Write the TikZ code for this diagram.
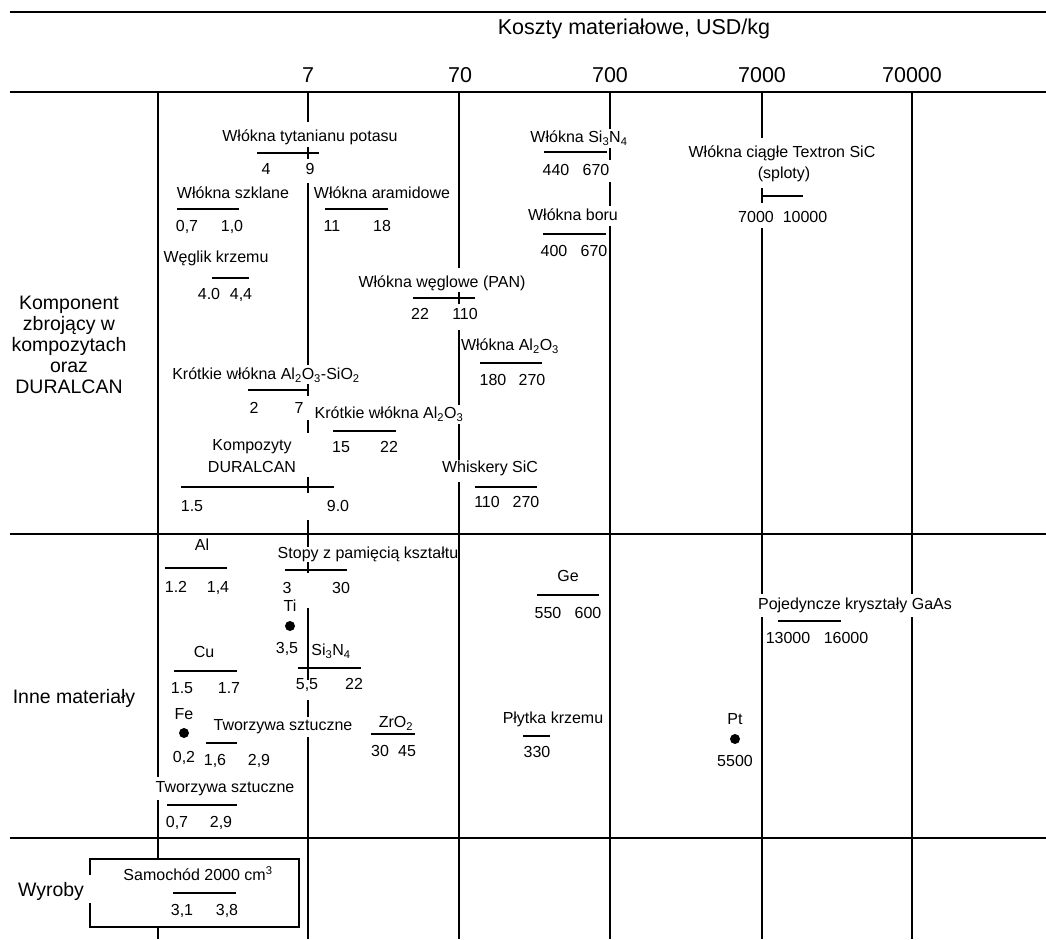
\documentclass[tikz,border=0pt]{standalone}
\usepackage{fontspec}
\setmainfont{Liberation Sans}
\begin{document}
\begin{tikzpicture}[x=1pt,y=-1pt,
  gridln/.style={line width=2.2pt},
  rbar/.style={line width=2.4pt},
  lb/.style={font=\fontsize{16}{18}\selectfont, inner sep=0pt, text height=11pt, text depth=0pt},
  sect/.style={font=\fontsize{19.5}{21}\selectfont, align=center, inner sep=0pt},
  head/.style={font=\fontsize{21.5}{24}\selectfont, inner sep=0pt, text height=15pt, text depth=0pt},
  pdot/.style={circle, fill=black, inner sep=0pt, minimum size=10pt}
]
\useasboundingbox (0,0) rectangle (1046,939);

% horizontal rules
\draw[gridln] (10,12) -- (1046,12);
\draw[gridln] (10,92) -- (1046,92);
\draw[gridln] (10,534) -- (1046,534);
\draw[gridln] (10,838) -- (1046,838);

% vertical grid lines (with gaps where labels sit)
\draw[gridln] (158,92) -- (158,777) (158,800) -- (158,939);
\draw[gridln] (308,92) -- (308,122) (308,147) -- (308,159) (308,183) -- (308,365)
  (308,384) -- (308,396) (308,420) -- (308,433) (308,477) -- (308,493)
  (308,520) -- (308,547) (308,562) -- (308,573) (308,608) -- (308,680)
  (308,700) -- (308,717) (308,737) -- (308,939);
\draw[gridln] (459,92) -- (459,268) (459,292) -- (459,304) (459,330) -- (459,405)
  (459,424) -- (459,460) (459,482) -- (459,939);
\draw[gridln] (610,92) -- (610,129) (610,148) -- (610,160) (610,182) -- (610,206)
  (610,226) -- (610,939);
\draw[gridln] (762,92) -- (762,138) (762,188) -- (762,203) (762,228) -- (762,594)
  (762,617) -- (762,939);
\draw[gridln] (912,92) -- (912,594) (912,617) -- (912,939);

% header
\node[head] (title) at (634,27) {Koszty materiałowe, USD/kg};
\node[head] (h1) at (308,75) {7};
\node[head] (h2) at (460,75) {70};
\node[head] (h3) at (610,75) {700};
\node[head] (h4) at (762,75) {7000};
\node[head] (h5) at (912,75) {70000};

% section labels
\node[sect] (s1) at (69,345) {Komponent\\zbrojący w\\kompozytach\\oraz\\DURALCAN};
\node[sect] (s2) at (74,698) {Inne materiały};

% ---- Section 1 ----
\node[lb] (a1) at (310,136) {Włókna tytanianu potasu};
\draw[rbar] (257,153) -- (319,153);
\node[lb] (a1l) at (266,169) {4};
\node[lb] (a1r) at (310,169) {9};

\node[lb] (a2) at (233,193) {Włókna szklane};
\draw[rbar] (177,209) -- (239,209);
\node[lb] (a2l) at (187,226) {0,7};
\node[lb] (a2r) at (232,226) {1,0};

\node[lb] (a3) at (382,193) {Włókna aramidowe};
\draw[rbar] (325,209) -- (388,209);
\node[lb] (a3l) at (332,226) {11};
\node[lb] (a3r) at (382,226) {18};

\node[lb] (a4) at (216,257) {Węglik krzemu};
\draw[rbar] (212,278) -- (249,278);
\node[lb] (a4l) at (209,294) {4.0};
\node[lb] (a4r) at (241,294) {4,4};

\node[lb] (a5) at (442,282) {Włókna węglowe (PAN)};
\draw[rbar] (413,298) -- (475,298);
\node[lb] (a5l) at (420,314) {22};
\node[lb] (a5r) at (465,314) {110};

\node[lb] (a6) at (510,345) {Włókna Al\textsubscript{2}O\textsubscript{3}};
\draw[rbar] (480,363) -- (542,363);
\node[lb] (a6l) at (493,380) {180};
\node[lb] (a6r) at (532,380) {270};

\node[lb] (a7) at (266,374) {Krótkie włókna Al\textsubscript{2}O\textsubscript{3}-SiO\textsubscript{2}};
\draw[rbar] (248,390) -- (309,390);
\node[lb] (a7l) at (254,408) {2};
\node[lb] (a7r) at (299,408) {7};

\node[lb] (a8) at (389,413) {Krótkie włókna Al\textsubscript{2}O\textsubscript{3}};
\draw[rbar] (333,431) -- (396,431);
\node[lb] (a8l) at (341,447) {15};
\node[lb] (a8r) at (389,447) {22};

\node[lb] (a9) at (252,445) {Kompozyty};
\node[lb] (a9b) at (252,467) {DURALCAN};
\draw[rbar] (181,487) -- (334,487);
\node[lb] (a9l) at (192,506) {1.5};
\node[lb] (a9r) at (338,506) {9.0};

\node[lb] (a10) at (490,467) {Whiskery SiC};
\draw[rbar] (475,487) -- (537,487);
\node[lb] (a10l) at (487,502) {110};
\node[lb] (a10r) at (526,502) {270};

\node[lb] (a11) at (579,137) {Włókna Si\textsubscript{3}N\textsubscript{4}};
\draw[rbar] (544,152) -- (607,152);
\node[lb] (a11l) at (556,170) {440};
\node[lb] (a11r) at (596,170) {670};

\node[lb] (a12) at (573,215) {Włókna boru};
\draw[rbar] (543,234) -- (606,234);
\node[lb] (a12l) at (554,251) {400};
\node[lb] (a12r) at (594,251) {670};

\node[lb] (a13) at (782,152) {Włókna ciągłe Textron SiC};
\node[lb] (a13b) at (784,173) {(sploty)};
\draw[rbar] (762,196) -- (803,196);
\node[lb] (a13l) at (756,217) {7000};
\node[lb] (a13r) at (805,217) {10000};

% ---- Section 2 ----
\node[lb] (b1) at (202,545) {Al};
\draw[rbar] (165,568) -- (227,568);
\node[lb] (b1l) at (176,587) {1.2};
\node[lb] (b1r) at (218,587) {1,4};

\node[lb] (b2) at (368,553) {Stopy z pamięcią kształtu};
\draw[rbar] (285,570) -- (347,570);
\node[lb] (b2l) at (287,588) {3};
\node[lb] (b2r) at (341,588) {30};

\node[lb] (b3) at (290,606) {Ti};
\node[pdot] (b3d) at (290,626) {};
\node[lb] (b3l) at (287,648) {3,5};

\node[lb] (b4) at (331,650) {Si\textsubscript{3}N\textsubscript{4}};
\draw[rbar] (298,668) -- (361,668);
\node[lb] (b4l) at (307,684) {5,5};
\node[lb] (b4r) at (354,684) {22};

\node[lb] (b5) at (204,652) {Cu};
\draw[rbar] (174,671) -- (237,671);
\node[lb] (b5l) at (182,688) {1.5};
\node[lb] (b5r) at (229,688) {1.7};

\node[lb] (b6) at (184,714) {Fe};
\node[pdot] (b6d) at (184,733) {};
\node[lb] (b6l) at (184,757) {0,2};

\node[lb] (b7) at (283,725) {Tworzywa sztuczne};
\draw[rbar] (206,743) -- (237,743);
\node[lb] (b7l) at (215,760) {1,6};
\node[lb] (b7r) at (259,760) {2,9};

\node[lb] (b8) at (396,722) {ZrO\textsubscript{2}};
\draw[rbar] (371,734) -- (415,734);
\node[lb] (b8l) at (380,751) {30};
\node[lb] (b8r) at (407,751) {45};

\node[lb] (b9) at (225,787) {Tworzywa sztuczne};
\draw[rbar] (167,805) -- (237,805);
\node[lb] (b9l) at (177,822) {0,7};
\node[lb] (b9r) at (221,822) {2,9};

\node[lb] (b10) at (568,576) {Ge};
\draw[rbar] (537,595) -- (599,595);
\node[lb] (b10l) at (548,613) {550};
\node[lb] (b10r) at (588,613) {600};

\node[lb] (b11) at (855,604) {Pojedyncze kryształy GaAs};
\draw[rbar] (778,621) -- (841,621);
\node[lb] (b11l) at (788,638) {13000};
\node[lb] (b11r) at (846,638) {16000};

\node[lb] (b12) at (553,718) {Płytka krzemu};
\draw[rbar] (523,736) -- (550,736);
\node[lb] (b12l) at (537,752) {330};

\node[lb] (b13) at (735,719) {Pt};
\node[pdot] (b13d) at (735,739) {};
\node[lb] (b13l) at (735,761) {5500};

% ---- Section 3 ----
\node[draw, line width=1.6pt, fill=white, inner sep=0pt, minimum width=209pt, minimum height=68pt] (box) at (194.5,893) {};
\node[sect, fill=white, inner xsep=7.5pt, inner ysep=7pt, text height=14pt, text depth=0pt] (s3) at (51,889) {Wyroby};
\node[lb] (c1) at (198,875) {Samochód 2000 cm\textsuperscript{3}};
\draw[rbar] (173,893) -- (236,893);
\node[lb] (c1l) at (182,910) {3,1};
\node[lb] (c1r) at (227,910) {3,8};
\end{tikzpicture}
\end{document}
